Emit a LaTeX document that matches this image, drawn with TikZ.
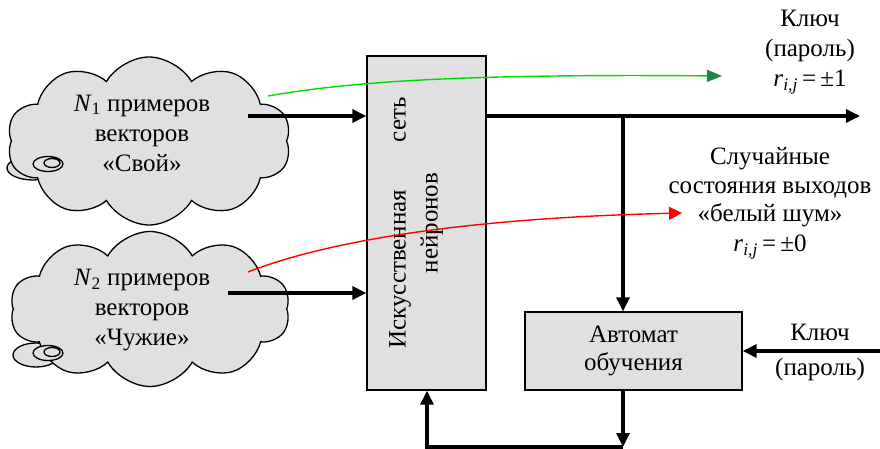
\documentclass[tikz,border=0pt]{standalone}
\usepackage{fontspec}
\usepackage{xcolor}
\usepackage{tikz}
\usetikzlibrary{positioning,shapes.symbols,arrows.meta}
\setmainfont{Liberation Serif}
\newfontfamily\timesfont{Liberation Serif}

\definecolor{keygreen}{RGB}{0,220,0}
\definecolor{tipgreen}{RGB}{30,135,75}
\definecolor{boxgray}{RGB}{224,224,224}

\begin{document}
\begin{tikzpicture}[x=1pt, y=-1pt, >={Triangle[length=14pt, width=13pt]},
  every node/.style={font=\timesfont\fontsize{25}{30}\selectfont, align=center},
  every cloud/.style={cloud, cloud puffs=10, cloud puff arc=120, cloud ignores aspect, draw, line width=1.3pt, fill=boxgray, inner sep=0pt},
  every bubble/.style={draw, line width=1.3pt, fill=boxgray},
  every block/.style={draw, line width=1.3pt, fill=boxgray},
  link/.style={line width=3.2pt}]

\useasboundingbox (0,0) rectangle (880,449);

\foreach \i/\bx/\by/\rx in {1/33/168/26, 2/36/355/23}
  \draw [every bubble] (\bx,\by) ellipse ({\rx} and 12);

\foreach \i/\cx/\cy/\w/\h in {1/149/141/284/168, 2/150/309/280/155}
  \node [every cloud, minimum width=\w, minimum height=\h] (cloud-\i) at (\cx,\cy) {};

\foreach \i/\bx/\by in {1/48/164, 2/48/353}
  \draw [every bubble] (\bx,\by) ellipse (15 and 7.5)
    (\bx+4,\by-1) ellipse (8 and 4.5);

\node (text-1) at (142,133) {\textit{N}\textsubscript{1} примеров\\векторов\\«Свой»};
\node (text-2) at (142,310) {\textit{N}\textsubscript{2} примеров\\векторов\\«Чужие»};

\node [every block, minimum width=119, minimum height=334] (net) at (426.5,223) {};
\node [rotate=90] (net-text) at (416,223) {Искусственная\hspace{1.9em}сеть\\[2pt]нейронов};

\node [every block, minimum width=217, minimum height=78] (automat) at (633.5,351) {Автомат\\[-2pt]обучения};

\node (key-top) at (810,52) {Ключ\\(пароль)\\\textit{r}\textsubscript{\textit{i,j}}\,=\,±1};
\node (noise) at (770,203) {Случайные\\[-1pt]состояния выходов\\[-2pt]«белый шум»\\\textit{r}\textsubscript{\textit{i,j}}\,=\,±0};
\node (key-bottom) at (820,352) {Ключ\\[5pt](пароль)};

\coordinate (in-1) at (248,116);
\coordinate (in-2) at (228,293);
\coordinate (out) at (860,116);
\coordinate (branch) at (623,116);
\coordinate (key-in) at (880,351);
\coordinate (loop) at (623,447);
\coordinate (loop-end) at (427,447);

\foreach \i in {1,2}
  \draw [link, ->] (in-\i) -- (in-\i -| net.west);

\draw [link, ->] (in-1 -| net.east) -- (out);
\draw [link, ->] (branch) -- (branch |- automat.north);
\draw [link, ->] (key-in) -- (key-in -| automat.east);
\draw [link, ->] (branch |- automat.south) -- (loop);
\draw [link, ->] (loop) -- (loop-end) -- (loop-end |- net.south);

\coordinate (green-src) at (268,96);
\coordinate (green-dst) at (722,76);
\coordinate (red-src) at (248,272);
\coordinate (red-dst) at (682,213);

\draw [keygreen, line width=1.4pt, -{Triangle[length=15pt, width=12pt, color=tipgreen]}]
  (green-src) .. controls (360,80) and (480,74) .. (green-dst);
\draw [red, line width=1.4pt, -{Triangle[length=13pt, width=13pt]}]
  (red-src) .. controls (330,240) and (470,218) .. (red-dst);
\end{tikzpicture}
\end{document}
